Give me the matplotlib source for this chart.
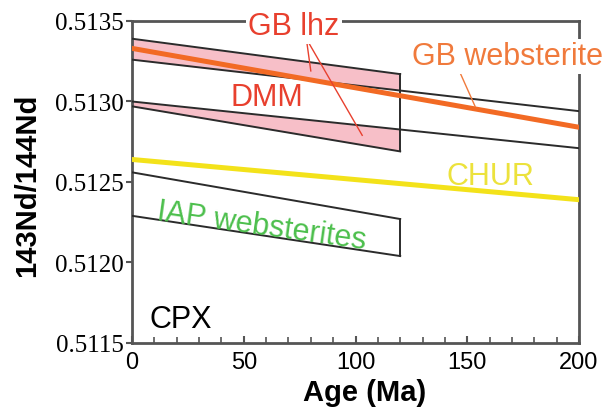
import matplotlib.pyplot as plt
import numpy as np
from matplotlib.ticker import MultipleLocator

# ages (Ma) at the ends of each band
box_ages = [0, 120]
full_ages = [0, 200]

# GB lherzolite field (pink box)
lhz_top = [0.51339, 0.51317]
lhz_bottom = [0.51297, 0.51269]

# GB websterite envelope and mean
web_upper = [0.51326, 0.51294]
web_lower = [0.51300, 0.51271]
web_mean = [0.51333, 0.51284]

# CHUR evolution
chur = [0.51264, 0.51239]

# IAP websterites box
iap_upper = [0.51256, 0.51227]
iap_lower = [0.51229, 0.51204]

y_ticks = [0.5115, 0.5120, 0.5125, 0.5130, 0.5135]
x_ticks = [0, 50, 100, 150, 200]

sans = ["Liberation Sans", "DejaVu Sans"]
serif = ["Liberation Serif", "DejaVu Serif"]

fig = plt.figure(figsize=(6.16, 4.10), dpi=100)
ax = fig.add_axes([132 / 616, 1 - 344 / 410, 447 / 616, 322 / 410])

black = "#2b2b2b"
spine_col = "#555555"

# pink lherzolite box, white band for the websterite envelope on top
ax.fill_between(box_ages, lhz_top, lhz_bottom, color="#f7bfc8", lw=0, zorder=1)
ax.fill_between(full_ages, web_upper, web_lower, color="white", lw=0, zorder=1.5)
ax.plot(box_ages, lhz_top, color=black, lw=1.4, zorder=3)
ax.plot(box_ages, lhz_bottom, color=black, lw=1.4, zorder=3)
ax.plot([box_ages[1], box_ages[1]], [lhz_top[1], lhz_bottom[1]], color=black, lw=1.4, zorder=3)

ax.plot(full_ages, web_upper, color=black, lw=1.4, zorder=3)
ax.plot(full_ages, web_lower, color=black, lw=1.4, zorder=3)
ax.plot(full_ages, web_mean, color="#f26a24", lw=3.6, zorder=4)

ax.plot(full_ages, chur, color="#f3e21a", lw=3.6, zorder=4)

ax.plot(box_ages, iap_upper, color=black, lw=1.4, zorder=3)
ax.plot(box_ages, iap_lower, color=black, lw=1.4, zorder=3)
ax.plot([box_ages[1], box_ages[1]], [iap_upper[1], iap_lower[1]], color=black, lw=1.4, zorder=3)

# leader lines
red = "#e8402e"
orange = "#f07a3c"
ax.plot([78, 80], [0.51339, 0.51319], color=red, lw=1.0, zorder=5, clip_on=False)
ax.plot([78, 103], [0.51339, 0.51279], color=red, lw=1.0, zorder=5, clip_on=False)
ax.plot([144.5, 153.5], [0.51325, 0.51297], color=orange, lw=1.0, zorder=5)

# labels
box = dict(facecolor="white", edgecolor="none", pad=2)
ax.text(72.5, 0.51347, "GB lhz", color=red, fontsize=22, family=sans,
        ha="center", va="center", zorder=10, clip_on=False, bbox=box)
ax.text(168, 0.51328, "GB websterite", color=orange, fontsize=22, family=sans,
        ha="center", va="center", zorder=10, clip_on=False, bbox=box)
ax.text(60.5, 0.51303, "DMM", color=red, fontsize=22, family=sans,
        ha="center", va="center", zorder=6)
ax.text(160.5, 0.51254, "CHUR", color="#ece23c", fontsize=22, family=sans,
        ha="center", va="center", zorder=6)
ax.text(58, 0.51223, "IAP websterites", color="#4cbf4c", fontsize=22, family=sans,
        ha="center", va="center", rotation=-8, zorder=6)
ax.text(8, 0.51165, "CPX", color="black", fontsize=22, family=sans,
        ha="left", va="center", zorder=6)

ax.set_xlim(0, 200)
ax.set_ylim(0.5115, 0.5135)

for side in ["left", "right", "top", "bottom"]:
    ax.spines[side].set_color(spine_col)
    ax.spines[side].set_linewidth(2.0)
    ax.spines[side].set_zorder(2.5)

ax.set_yticks(y_ticks)
ax.set_yticklabels(["%.4f" % v for v in y_ticks], family=serif, fontsize=18)
ax.set_xticks(x_ticks)
ax.set_xticklabels([str(v) for v in x_ticks], family=sans, fontsize=17)
ax.xaxis.set_minor_locator(MultipleLocator(10))
ax.tick_params(axis="x", which="major", direction="in", length=5, width=1.5,
               color=spine_col, pad=6)
ax.tick_params(axis="x", which="minor", direction="in", length=4, width=1.2,
               color=spine_col)
ax.tick_params(axis="y", which="major", direction="out", length=4, width=1.5,
               color=spine_col, pad=2)

ax.set_xlabel("Age (Ma)", family=sans, fontsize=21, fontweight="bold", labelpad=0)
ax.xaxis.set_label_coords((365 - 132) / 447, -(379 - 344) / 322)
fig.text(27 / 616, 1 - 185 / 410, "143Nd/144Nd", family=sans, fontsize=21,
         fontweight="bold", rotation=90, ha="center", va="center")

fig.savefig("out.png", dpi=100)
